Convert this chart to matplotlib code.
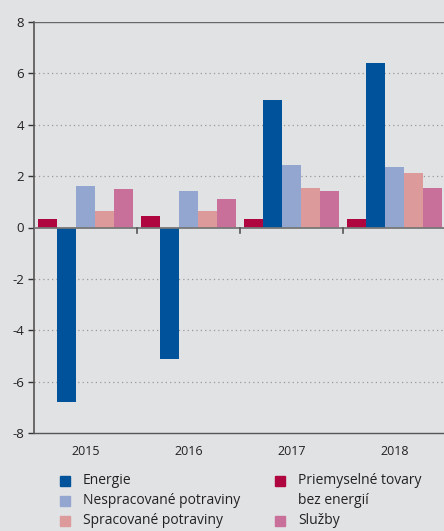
import numpy as np
import matplotlib
matplotlib.use("Agg")
import matplotlib.pyplot as plt
from matplotlib.patches import Rectangle

# data
years = ["2015", "2016", "2017", "2018"]
priemyselne = [0.33, 0.43, 0.33, 0.33]
energie = [-6.8, -5.1, 4.97, 6.4]
nespracovane = [1.62, 1.43, 2.45, 2.37]
spracovane = [0.64, 0.64, 1.52, 2.12]
sluzby = [1.5, 1.12, 1.44, 1.52]

series = [
    ("Priemyselné tovary\nbez energií", priemyselne, "#b0063f"),
    ("Energie", energie, "#00529b"),
    ("Nespracované potraviny", nespracovane, "#93a6d0"),
    ("Spracované potraviny", spracovane, "#dc9a9b"),
    ("Služby", sluzby, "#c86f9a"),
]

BG = "#e1e2e4"
plt.rcParams["font.family"] = ["Open Sans", "DejaVu Sans"]
plt.rcParams["axes.unicode_minus"] = False

fig = plt.figure(figsize=(4.44, 5.31), dpi=100, facecolor=BG)
ax = fig.add_axes([34 / 444, (531 - 433) / 531, 412 / 444, 411 / 531])
ax.set_facecolor(BG)

x = np.arange(len(years))
bw = 0.185
offsets = (np.arange(len(series)) - 2) * bw
for (name, vals, col), off in zip(series, offsets):
    ax.bar(x + off, vals, bw, color=col, zorder=3)

ax.set_xlim(-0.5, 3.5)
ax.set_ylim(-8, 8)
ax.set_yticks(range(-8, 9, 2))
ax.tick_params(axis="y", labelsize=9.5, colors="#333333", length=4, width=1,
               direction="out", pad=3)
for t in ax.get_yticklabels():
    t.set_color("#222222")

for v in [-6, -4, -2, 2, 4, 6]:
    ax.axhline(v, color="#9a9a9a", lw=0.9, ls=(0, (1, 2.5)), zorder=1)
ax.axhline(0, color="#777777", lw=1.3, zorder=4)
ax.axhline(8, color="#666666", lw=1.0, zorder=4)

for s in ["right", "top"]:
    ax.spines[s].set_visible(False)
ax.spines["left"].set_color("#555555")
ax.spines["left"].set_linewidth(1.2)
ax.spines["bottom"].set_color("#555555")
ax.spines["bottom"].set_linewidth(1.0)

# group separator ticks on zero line
ax.set_xticks([])
for b in [0.5, 1.5, 2.5]:
    ax.plot([b, b], [0, -0.22], color="#555555", lw=1.2, zorder=5, clip_on=False)

for xi, yr in zip(x, years):
    ax.text(xi, -8.45, yr, ha="center", va="top", fontsize=9, color="#222222")

# legend (manual, two columns)
legend_items = [
    (60, 481, series[1]), (60, 501, series[2]), (60, 521, series[3]),
    (275, 481, series[0]), (275, 521, series[4]),
]
for px, py, (name, vals, col) in legend_items:
    fig.add_artist(Rectangle((px / 444, 1 - (py + 5) / 531), 10 / 444, 10 / 531,
                             transform=fig.transFigure, color=col))
    for i, line in enumerate(name.split("\n")):
        fig.text((px + 23) / 444, 1 - (py + 20 * i) / 531, line, ha="left",
                 va="center", fontsize=10, color="#222222")

fig.savefig("out.png", dpi=100, facecolor=BG)
